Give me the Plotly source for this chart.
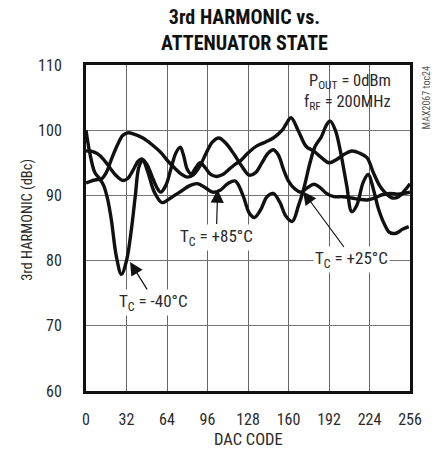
import plotly.graph_objects as go

# ---- data ----
dac_m40 = [0, 3, 7, 11, 14, 17, 20, 24, 28, 32, 36, 39, 42, 45, 49, 54, 60, 66, 74, 82, 88, 94,
           100, 106, 112, 118, 124, 129, 133, 138, 143, 148, 153, 158, 163, 168, 172, 177, 181,
           186, 190, 193, 197, 201, 206, 210, 214, 219, 223, 227, 231, 236, 240, 245, 250, 255]
val_m40 = [100, 96.5, 93.5, 92.5, 91.5, 89.5, 86.3, 80.6, 77.9, 80, 85, 90, 94.5, 95.3, 93.5, 90.5,
           88.9, 89.5, 90.5, 91.5, 91.8, 91.2, 90.5, 90.8, 91.8, 92.2, 90, 87.3, 86.6, 87.8, 89.8,
           90.3, 89, 86.8, 86, 88.5, 91, 95, 97.5, 99, 100.8, 101.4, 100, 96.8, 91.5, 87.5, 88.5,
           92, 93.2, 91, 88, 85.5, 84.3, 84.2, 84.8, 85.2]

dac_p25 = [0, 4, 8, 12, 16, 20, 25, 29, 33, 38, 45, 52, 59, 65, 70, 75, 80, 85, 90, 95, 100, 105,
           110, 117, 123, 129, 134, 139, 144, 148, 152, 156, 160, 165, 170, 175, 180, 185, 190,
           196, 203, 210, 216, 222, 228, 234, 240, 246, 251, 256]
val_p25 = [91.9, 92.2, 92.4, 92.5, 93.5, 95.5, 97.8, 99.2, 99.6, 99.4, 98.8, 97.8, 96.6, 95.2, 94.2,
           93.3, 92.8, 93.2, 94.5, 96.5, 98.2, 98.8, 98.1, 96.3, 94.5, 93.1, 93.5, 95, 96.5, 97,
           96.2, 94, 92.2, 91, 90.5, 91.2, 91.7, 91.2, 90.3, 89.8, 89.8, 89.6, 89.4, 89.3, 89.6,
           90.1, 90.3, 90.2, 90.3, 90.5]

dac_p85 = [0, 4, 9, 14, 19, 24, 29, 33, 37, 41, 44, 48, 52, 56, 59, 63, 67, 71, 74.5, 77, 80, 83,
           87, 90, 94, 98, 103, 108, 113, 118, 122, 128, 135, 142, 148, 155, 158, 162, 168, 174,
           180, 186, 192, 198, 204, 210, 216, 222, 227, 232, 236, 242, 247, 252, 256]
val_p85 = [96.8, 96.8, 96.4, 95.5, 94.2, 93, 92.3, 92.6, 93.8, 95.2, 95.6, 94.8, 93, 91.2, 90.5,
           91.5, 94, 96.5, 97.4, 96.2, 94, 93.3, 94.3, 95, 94.3, 93.3, 92.9, 93.2, 94, 94.8, 95.3,
           96.5, 97.6, 98.2, 98.8, 100, 100.9, 101.9, 99.8, 97.5, 96.8, 95.8, 95, 95.5, 96.3, 96.8,
           96.5, 95.8, 93.5, 91.5, 90.5, 89.6, 89.8, 90.8, 91.8]

x_ticks = [0, 32, 64, 96, 128, 160, 192, 224, 256]
y_ticks = [60, 70, 80, 90, 100, 110]

FONT = "Liberation Sans Narrow, Roboto Condensed, DejaVu Sans Condensed, Arial Narrow, sans-serif"

fig = go.Figure()
for xs, ys in [(dac_p25, val_p25), (dac_p85, val_p85), (dac_m40, val_m40)]:
    fig.add_trace(go.Scatter(x=xs, y=ys, mode="lines",
                             line=dict(color="#111111", width=3.4, shape="spline", smoothing=1.0),
                             showlegend=False, hoverinfo="skip"))

fig.update_layout(
    width=432, height=454,
    margin=dict(l=86, r=22, t=65, b=63),
    paper_bgcolor="white", plot_bgcolor="white",
    font=dict(family=FONT, size=16, color="#2a2a2a"),
    xaxis=dict(range=[0, 256], tickvals=x_ticks, ticktext=[str(v) for v in x_ticks],
               showgrid=True, gridcolor="#666666", gridwidth=1.2,
               showline=True, linecolor="#111111", linewidth=3, mirror=True,
               ticks="", zeroline=False, ticklabelstandoff=12, tickfont=dict(size=16),
               automargin=False),
    yaxis=dict(range=[60, 110], tickvals=y_ticks, ticktext=[str(v) for v in y_ticks],
               showgrid=True, gridcolor="#777777", gridwidth=1.3,
               showline=True, linecolor="#111111", linewidth=3, mirror=True,
               ticks="", zeroline=False, ticklabelstandoff=18, tickfont=dict(size=16),
               automargin=False),
)

ann = []
# title
ann.append(dict(text="<b>3rd HARMONIC vs.<br>ATTENUATOR STATE</b>", xref="paper", yref="paper",
                x=0.49, y=1.19, xanchor="center", yanchor="top", showarrow=False,
                font=dict(size=20, color="#111111", family=FONT)))
# axis titles
ann.append(dict(text="DAC CODE", xref="paper", yref="paper", x=0.5, y=-0.15,
                xanchor="center", yanchor="middle", showarrow=False, font=dict(size=16.5)))
ann.append(dict(text="3rd HARMONIC (dBc)", xref="paper", yref="paper", x=-0.179, y=0.525,
                xanchor="center", yanchor="middle", textangle=-90, showarrow=False,
                font=dict(size=14.5)))
# conditions
ann.append(dict(text="P<sub>OUT</sub> = 0dBm", x=242.5, y=107.4, xanchor="right", yanchor="middle",
                showarrow=False, font=dict(size=16.5)))
ann.append(dict(text="f<sub>RF</sub> = 200MHz", x=242.5, y=104.3, xanchor="right", yanchor="middle",
                showarrow=False, font=dict(size=16.5)))
# toc id
ann.append(dict(text="MAX2067 toc24", xref="paper", yref="paper", x=1.052, y=0.90,
                xanchor="center", yanchor="middle",
                textangle=-90, showarrow=False, font=dict(size=10, color="#555555")))
# curve labels
ann.append(dict(text="T<sub>C</sub> = +85°C", x=103.5, y=83.6, showarrow=False,
                bgcolor="white", font=dict(size=17)))
ann.append(dict(text="T<sub>C</sub> = -40°C", x=53, y=73.5, showarrow=False,
                bgcolor="white", font=dict(size=17)))
ann.append(dict(text="T<sub>C</sub> = +25°C", x=210, y=80.2, showarrow=False,
                bgcolor="white", font=dict(size=17)))
# arrows
for tip_x, tip_y, ax, ay in [(104, 90.9, -1, 36), (34.8, 79.8, 18, 29), (171.5, 90.6, 42, 57)]:
    ann.append(dict(text="", x=tip_x, y=tip_y, ax=ax, ay=ay, showarrow=True,
                    arrowhead=2, arrowsize=2.2, arrowwidth=1.2, arrowcolor="#111111"))

fig.update_layout(annotations=ann)
fig.write_html("out.html")
